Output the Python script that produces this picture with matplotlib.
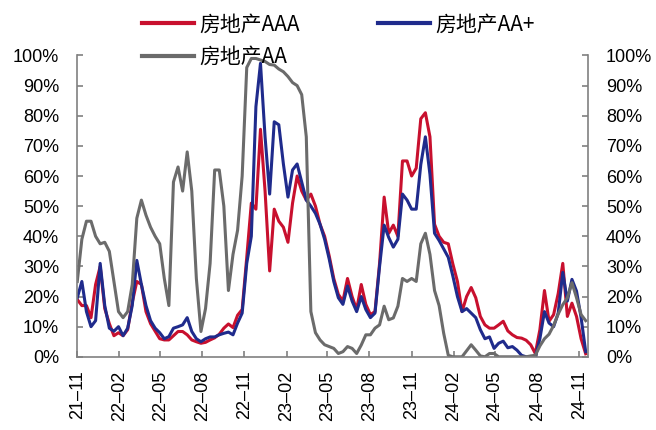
import matplotlib
matplotlib.use('Agg')
import matplotlib.pyplot as plt
import matplotlib.dates as mdates
from matplotlib.ticker import PercentFormatter
import pandas as pd

# readings every 10 days, starting 2021-11-01 (percent)
start_date = '2021-11-01'
aaa = [19, 17, 17, 13, 24, 30, 16, 11, 7, 8,
       7, 9, 18, 25, 24, 15, 11, 8.5, 6, 5.6,
       5.6, 7, 8.4, 8.4, 7.3, 5.6, 5, 4.5, 4.8, 5.6,
       6.3, 7.5, 9.5, 10.9, 9.7, 13.8, 15.7, 33, 51, 49,
       75.5, 55, 28.5, 49, 45, 43, 38, 51, 60, 55,
       52, 54, 50, 44, 40, 33.5, 26, 20.7, 18.5, 26,
       20, 15.7, 24, 17.4, 14, 15, 31, 53, 41, 43.7,
       40, 65, 65, 60, 62.6, 79, 81, 73, 44, 40,
       38, 37.5, 30.8, 25, 15, 20, 23, 19.6, 13.4, 10.6,
       9.5, 9.5, 10.6, 11.8, 8.6, 7.3, 6.4, 6.2, 5.5, 4,
       1.1, 9, 22, 11.8, 14, 21, 31, 13.4, 17.8, 13.4,
       6, 1]
aa_plus = [19.6, 25, 15, 10, 12, 31, 17, 9.5, 8.5, 10,
           7, 9.5, 17, 32, 24, 17, 12, 9.5, 8, 6,
           6.7, 9.5, 10, 10.6, 13, 8.4, 6, 5, 6, 6.6,
           6.6, 7.3, 7.8, 8.2, 7.3, 11.2, 14.5, 31, 40, 83,
           97.4, 73, 54, 78, 77, 64, 53, 62, 64, 58,
           52, 50, 47.6, 44, 39, 32.5, 25, 19.6, 17.4, 23.5,
           18.5, 15, 20, 15.7, 13, 14.5, 30, 43.7, 39.6, 36.4,
           39, 54, 52, 49, 49, 63.8, 73, 60.5, 41, 38.6,
           35.8, 33, 26.8, 20, 15, 16, 14.5, 13, 9, 6,
           6.6, 2.8, 4.5, 5.2, 3, 3.4, 2.2, 0.5, 0, 0,
           0, 6, 15, 11.2, 10, 14.5, 28, 18.5, 25.7, 21.8,
           13, 1.7]
aa = [25, 39, 45, 45, 40, 37.5, 38, 35, 25, 15,
      13, 15, 24, 46, 52, 47, 43, 40, 37.5, 26,
      17, 58, 63, 55, 68, 55, 26, 8.4, 16, 31,
      62, 62, 50, 22, 34, 42, 60, 96, 99, 99,
      98.5, 98, 97, 96.8, 95.5, 94.6, 93, 91, 90, 87,
      73, 15, 8, 5.6, 4, 3.4, 2.8, 1.1, 1.7, 3.4,
      2.8, 1.1, 3.9, 7.3, 7.3, 9.5, 10.6, 16.8, 12.3, 12.9,
      16.8, 26, 25, 26, 25, 37.5, 41, 34, 22, 17,
      7.8, 0.5, 0, 0, 0, 2, 4, 2.2, 0.3, 0,
      1.1, 1.1, 0, 0, 0, 0, 0, 0, 0, 0.3,
      0.5, 3.6, 6, 7.5, 10.4, 14.2, 17.3, 19.6, 24.6, 19.6,
      14, 12]
labels = ['房地产AAA', '房地产AA+', '房地产AA']
colors = ['#C8102E', '#1F2B8C', '#6B6B6B']

dates = pd.date_range(start_date, periods=len(aaa), freq='10D')
tick_dates = pd.date_range('2021-11-01', '2024-11-01', freq='3MS')

fig = plt.figure(figsize=(6.56, 4.30), dpi=100)
ax = fig.add_axes([0.1178, 0.1702, 0.7785, 0.7008])

lines = []
for vals, lab, col in zip([aaa, aa_plus, aa], labels, colors):
    ln, = ax.plot(dates, vals, color=col, linewidth=2.2, label=lab)
    lines.append(ln)

ax.set_xlim(pd.Timestamp('2021-11-01'), pd.Timestamp('2024-11-20'))
ax.set_ylim(0, 100)
ax.set_yticks(range(0, 101, 10))
ax.yaxis.set_major_formatter(PercentFormatter(100, decimals=0))
ax.set_xticks(tick_dates)
ax.xaxis.set_major_formatter(mdates.DateFormatter('%y–%m'))

for side in ['left', 'right', 'bottom']:
    ax.spines[side].set_color('#808080')
    ax.spines[side].set_linewidth(1.2)
ax.spines['top'].set_visible(False)

ax.tick_params(axis='y', direction='in', length=4, width=1.2, color='#808080',
               right=True, labelright=True, pad=13, labelsize=13)
ax.tick_params(axis='x', direction='in', length=4, width=1.2, color='#808080',
               pad=10, labelsize=13, rotation=90)
for t in ax.get_xticklabels() + ax.get_yticklabels():
    t.set_family('Liberation Sans')
for t in ax.yaxis.get_ticklabels(which='major'):
    t.set_family('Liberation Sans')

# column-first fill: put AAA / AA in column 1, AA+ in column 2
order = [0, 2, 1]
leg = fig.legend([lines[i] for i in order], [labels[i] for i in order],
                 loc='upper left', bbox_to_anchor=(0.2165, 0.968), ncol=2,
                 frameon=False, prop={'family': ['Noto Sans CJK SC', 'DejaVu Sans'], 'size': 15},
                 handlelength=2.5, handletextpad=0.25, columnspacing=3.75,
                 labelspacing=0.5, borderpad=0, borderaxespad=0)
for line in leg.get_lines():
    line.set_linewidth(3)

fig.savefig('out.png', dpi=100)
